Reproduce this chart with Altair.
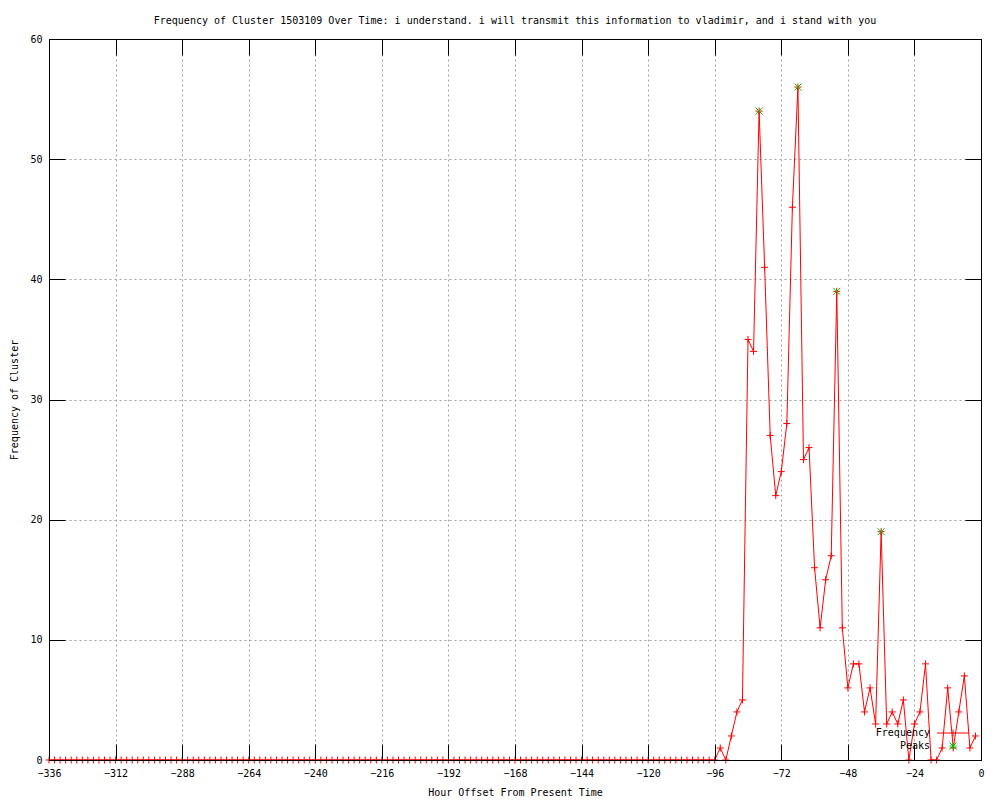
import altair as alt
import pandas as pd

# ---- data ----
hours = list(range(-336, 0, 2))
counts = [0] * 121 + [
    1, 0, 2, 4, 5, 35, 34, 54, 41, 27,
    22, 24, 28, 46, 56, 25, 26, 16, 11, 15,
    17, 39, 11, 6, 8, 8, 4, 6, 3, 19,
    3, 4, 3, 5, 0, 3, 4, 8, 0, 0,
    1, 6, 1, 4, 7, 1, 2,
]
peak_hours = [-80, -66, -52, -36]
peak_counts = [54, 56, 39, 19]
series = ["Frequency", "Peaks"]
x_ticks = [-336, -312, -288, -264, -240, -216, -192, -168, -144, -120, -96, -72, -48, -24, 0]
y_ticks = [0, 10, 20, 30, 40, 50, 60]

TITLE = ("Frequency of Cluster 1503109 Over Time: i understand. i will transmit "
         "this information to vladimir, and i stand with you")

FONT = "DejaVu Sans Mono"
RED = "#ff0000"
GREEN = "#00c000"
PLUS = "M-1,0L1,0M0,-1L0,1"
XSHAPE = "M-1,-1L1,1M-1,1L1,-1"
# legend key samples (drawn to the right of the label, gnuplot style)
LEG_FREQ = "M2.5,0H8.9M5.7,-0.7V0.7"
LEG_PEAK = "M5.0,0H6.4M5.7,-0.7V0.7M5.0,-0.7L6.4,0.7M5.0,0.7L6.4,-0.7"

W, H = 932, 721

df = pd.DataFrame({"hour": hours, "count": counts})
pk = pd.DataFrame({"hour": peak_hours, "count": peak_counts})
lg = pd.DataFrame({"series": series, "hour": [0, 0], "count": [0, 0]})

xscale = alt.Scale(domain=[-336, 0], nice=False, zero=False)
yscale = alt.Scale(domain=[0, 60], nice=False, zero=False)

main_x = alt.Axis(values=x_ticks, format="d", grid=True, gridColor="#a0a0a0",
                  gridDash=[2, 3], gridWidth=1, ticks=False, domain=False,
                  labelFont=FONT, labelFontSize=10, labelColor="black",
                  labelPadding=8, labelFlush=False, labelOverlap=False,
                  title="Hour Offset From Present Time", titleFont=FONT,
                  titleFontSize=10, titleFontWeight="normal", titleColor="black",
                  titlePadding=9)
main_y = alt.Axis(values=y_ticks, format="d", grid=True, gridColor="#a0a0a0",
                  gridDash=[2, 3], gridWidth=1, ticks=False, domain=False,
                  labelFont=FONT, labelFontSize=10, labelColor="black",
                  labelPadding=7, labelFlush=False, labelOverlap=False,
                  title="Frequency of Cluster", titleFont=FONT,
                  titleFontSize=10, titleFontWeight="normal", titleColor="black",
                  titlePadding=10)


def tick_axis(orient, offset, vals):
    return alt.Axis(orient=orient, offset=offset, values=vals, labels=False,
                    ticks=True, tickSize=16, tickColor="black", tickWidth=1,
                    domain=True, domainColor="black", domainWidth=1,
                    grid=False, title=None, zindex=1)


line = alt.Chart(df).mark_line(color=RED, strokeWidth=1).encode(
    x=alt.X("hour:Q", scale=xscale, axis=main_x),
    y=alt.Y("count:Q", scale=yscale, axis=main_y),
)

pts = alt.Chart(df).mark_point(shape=PLUS, size=49, color=RED, filled=False,
                               strokeWidth=1, opacity=1).encode(
    x=alt.X("hour:Q", scale=xscale, axis=tick_axis("top", -H, x_ticks)),
    y=alt.Y("count:Q", scale=yscale, axis=tick_axis("right", -W, y_ticks)),
)

peaks = alt.Chart(pk).mark_point(shape=XSHAPE, size=49, color=GREEN, filled=False,
                                 strokeWidth=1, opacity=1).encode(
    x=alt.X("hour:Q", scale=xscale, axis=tick_axis("bottom", -H, x_ticks)),
    y=alt.Y("count:Q", scale=yscale, axis=tick_axis("left", -W, y_ticks)),
)

leg = alt.Legend(title=None, orient="none", legendX=870, legendY=688.5, padding=0,
                 labelAlign="right", labelOffset=0, symbolOffset=0,
                 labelFont=FONT, labelFontSize=10, labelColor="black", rowPadding=2,
                 symbolSize=100, symbolStrokeWidth=1)

legend_layer = alt.Chart(lg).transform_filter("false").mark_point(
    filled=False, opacity=1, size=100, strokeWidth=1).encode(
    x=alt.X("hour:Q", scale=xscale, axis=None),
    y=alt.Y("count:Q", scale=yscale, axis=None),
    color=alt.Color("series:N", scale=alt.Scale(domain=series, range=[RED, GREEN]), legend=leg),
    shape=alt.Shape("series:N", scale=alt.Scale(domain=series, range=[LEG_FREQ, LEG_PEAK]), legend=leg),
)

chart = alt.layer(line, pts, peaks, legend_layer).resolve_axis(
    x="independent", y="independent"
).properties(
    width=W, height=H,
    autosize=alt.AutoSizeParams(type="none"),
    padding={"left": 41, "top": 31, "right": 10, "bottom": 40},
    background="white",
    title=alt.TitleParams(text=TITLE, font=FONT, fontSize=10, fontWeight="normal",
                          color="black", anchor="middle", baseline="bottom", offset=-1.5),
).configure_view(stroke="black", strokeWidth=1)

chart.save("out.html", embed_options={"renderer": "svg", "actions": False})
